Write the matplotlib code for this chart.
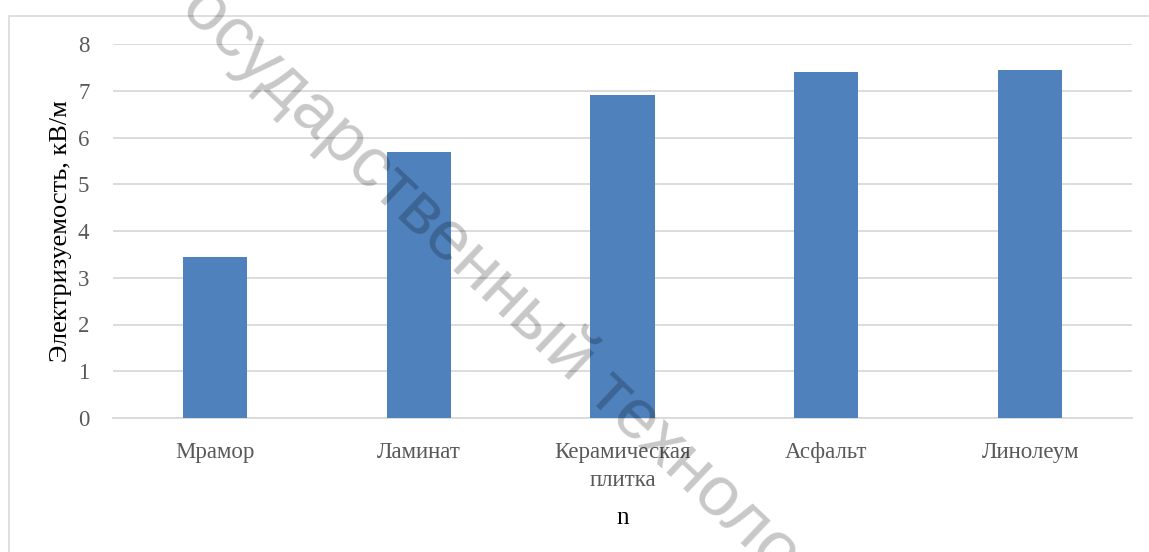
import numpy as np
import matplotlib; matplotlib.use("Agg")
import matplotlib.pyplot as plt
from matplotlib.patches import Rectangle

# data
categories = ["Мрамор", "Ламинат", "Керамическая\nплитка", "Асфальт", "Линолеум"]
values = [3.45, 5.68, 6.9, 7.4, 7.45]
yticks = [0, 1, 2, 3, 4, 5, 6, 7, 8]

BAR = "#4F81BD"; GRID = "#D9D9D9"; TXT = "#595959"
plt.rcParams["font.family"] = ["Liberation Serif", "DejaVu Serif"]

W, H = 1149, 552
fig = plt.figure(figsize=(W / 100, H / 100), dpi=100)
ax = fig.add_axes([113 / W, 1 - 418 / H, (1132 - 113) / W, (418 - 44) / H])

x = np.arange(len(categories))
ax.bar(x, values, width=0.315, color=BAR, zorder=3)
ax.set_xlim(-0.5, len(categories) - 0.5)
ax.set_ylim(0, 8)
ax.set_yticks(yticks)
ax.set_xticks(x); ax.set_xticklabels(categories, linespacing=1.45)
ax.grid(axis="y", color=GRID, lw=1.3, zorder=0)
for s in ["top", "right", "left"]:
    ax.spines[s].set_visible(False)
ax.spines["bottom"].set_color(GRID); ax.spines["bottom"].set_linewidth(1.3)
ax.tick_params(axis="both", length=0, labelsize=16.5, labelcolor=TXT)
ax.tick_params(axis="y", pad=17)
ax.tick_params(axis="x", pad=17)
ax.set_ylabel("Электризуемость, кВ/м", fontsize=19, color="black", labelpad=4)
ax.set_xlabel("n", fontsize=18, color="black", labelpad=12)

# outer chart frame
fig.patches.append(Rectangle((8.5 / W, -0.1), 1.2, 1 - 15.5 / H + 0.1, transform=fig.transFigure,
                             fill=False, edgecolor=GRID, lw=1.2, zorder=0))

# diagonal watermark
fig.text(154 / W, 1 + 13 / H, "Государственный технологический университет",
         rotation=-43.5, rotation_mode="anchor", ha="left", va="baseline",
         fontsize=51, family=["Liberation Sans", "DejaVu Sans"], color="black", alpha=0.22, zorder=10)

fig.savefig("out.png", dpi=100)
